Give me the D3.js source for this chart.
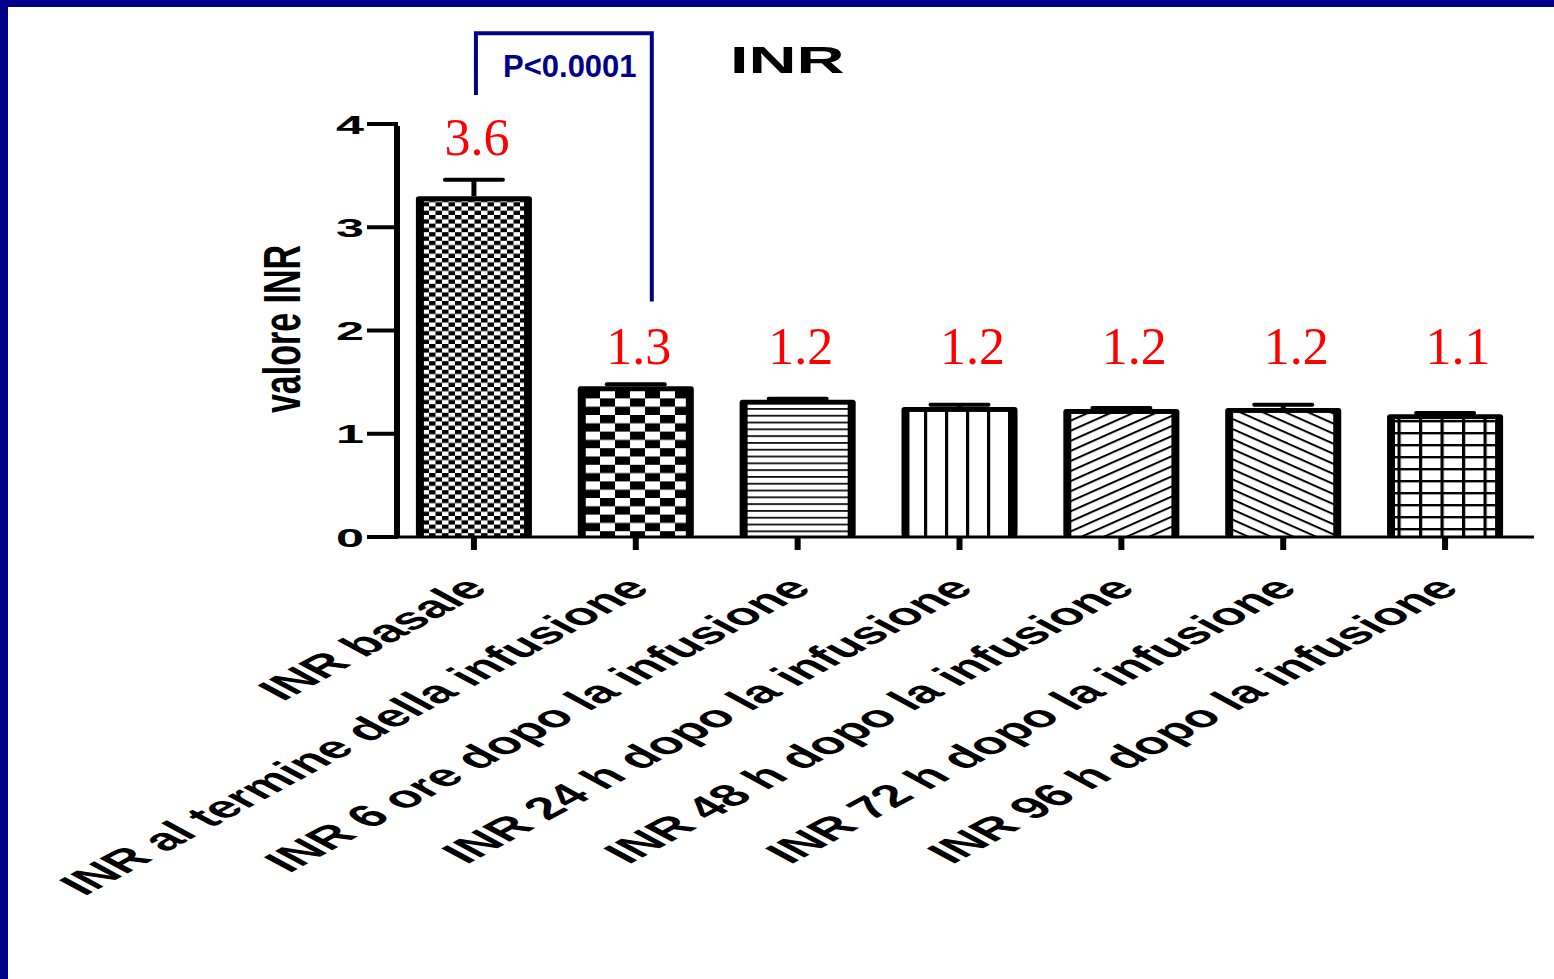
<!DOCTYPE html>
<html>
<head>
<meta charset="utf-8">
<script src="https://cdn.jsdelivr.net/npm/d3@7"></script>
<style>
  body { margin: 0; background: #fff; }
  svg { display: block; }
</style>
</head>
<body>
<svg id="chart" width="1554" height="979"></svg>
<script>
// INR values
var categories = [
    "INR basale",
    "INR al termine della infusione",
    "INR 6 ore dopo la infusione",
    "INR 24 h dopo la infusione",
    "INR 48 h dopo la infusione",
    "INR 72 h dopo la infusione",
    "INR 96 h dopo la infusione"
];
var means = [3.30, 1.46, 1.33, 1.26, 1.24, 1.25, 1.19];
var errors = [0.16, 0.02, 0.01, 0.02, 0.01, 0.03, 0.01];
var valueLabels = ["3.6", "1.3", "1.2", "1.2", "1.2", "1.2", "1.1"];
var yTicks = [0, 1, 2, 3, 4];
var pLabel = "P<0.0001";

var navy = "#000088";
var stretch = 1.85; // the original graph looks stretched sideways

var svg = d3.select("#chart");

// frame on the left and top
svg.append("rect").attr("x", 0).attr("y", 0).attr("width", 8).attr("height", 979).attr("fill", navy);
svg.append("rect").attr("x", 0).attr("y", 0).attr("width", 1554).attr("height", 7).attr("fill", navy);

var x = d3.scaleBand().domain(categories).range([393, 1526]).paddingInner(0.283).paddingOuter(0.1415);
var y = d3.scaleLinear().domain([0, 4]).range([537, 124]);

// fill patterns
var defs = svg.append("defs");
function pattern(id, w, h, transform) {
    var p = defs.append("pattern").attr("id", id)
        .attr("patternUnits", "userSpaceOnUse")
        .attr("width", w).attr("height", h);
    if (transform) p.attr("patternTransform", transform);
    p.append("rect").attr("width", w).attr("height", h).attr("fill", "#fff");
    return p;
}
function checker(id, w, h) {
    var p = pattern(id, w * 2, h * 2);
    p.append("rect").attr("x", 0).attr("y", 0).attr("width", w).attr("height", h).attr("fill", "#000");
    p.append("rect").attr("x", w).attr("y", h).attr("width", w).attr("height", h).attr("fill", "#000");
}
checker("p0", 6.5, 4.3);
checker("p1", 15, 8.3);
var p2 = pattern("p2", 10, 6.8);
p2.append("rect").attr("y", 0).attr("width", 10).attr("height", 1.8).attr("fill", "#111");
var p3 = pattern("p3", 21, 10);
p3.append("rect").attr("x", 0).attr("width", 3.2).attr("height", 10).attr("fill", "#000");
var p4 = pattern("p4", 10, 9.2, "rotate(-24)");
p4.append("rect").attr("y", 0).attr("width", 10).attr("height", 2).attr("fill", "#000");
var p5 = pattern("p5", 10, 9.2, "rotate(24)");
p5.append("rect").attr("y", 0).attr("width", 10).attr("height", 2).attr("fill", "#000");
var p6 = pattern("p6", 21.5, 12);
p6.append("rect").attr("x", 0).attr("width", 3.2).attr("height", 12).attr("fill", "#000");
p6.append("rect").attr("y", 0).attr("width", 21.5).attr("height", 2.4).attr("fill", "#000");

// bars
var bars = svg.selectAll("g.bar").data(categories).enter()
    .append("g").attr("class", "bar");

bars.append("rect")
    .attr("x", d => x(d))
    .attr("y", (d, i) => y(means[i]))
    .attr("width", x.bandwidth())
    .attr("height", (d, i) => y(0) - y(means[i]))
    .attr("rx", 3)
    .attr("fill", "#000");

bars.append("rect")
    .attr("x", d => x(d) + 8)
    .attr("y", (d, i) => y(means[i]) + 5)
    .attr("width", x.bandwidth() - 16)
    .attr("height", (d, i) => y(0) - y(means[i]) - 6)
    .attr("fill", (d, i) => "url(#p" + i + ")");

// error bars (upper half only)
bars.append("line")
    .attr("x1", d => x(d) + x.bandwidth() / 2)
    .attr("x2", d => x(d) + x.bandwidth() / 2)
    .attr("y1", (d, i) => y(means[i]))
    .attr("y2", (d, i) => y(means[i] + errors[i]))
    .attr("stroke", "#000").attr("stroke-width", 5);
bars.append("line")
    .attr("x1", d => x(d) + x.bandwidth() / 2 - 29)
    .attr("x2", d => x(d) + x.bandwidth() / 2 + 29)
    .attr("y1", (d, i) => y(means[i] + errors[i]))
    .attr("y2", (d, i) => y(means[i] + errors[i]))
    .attr("stroke", "#000").attr("stroke-width", 4).attr("stroke-linecap", "round");

// axes
svg.append("line").attr("x1", 367).attr("x2", 1534).attr("y1", y(0)).attr("y2", y(0))
    .attr("stroke", "#000").attr("stroke-width", 3);
svg.append("path")
    .attr("d", "M397," + y(0) + "V" + (y(4) + 2))
    .attr("stroke", "#000").attr("stroke-width", 6).attr("fill", "none");

var yAxis = svg.append("g");
yAxis.selectAll("line").data(yTicks).enter().append("line")
    .attr("x1", 367).attr("x2", 398)
    .attr("y1", d => y(d)).attr("y2", d => y(d))
    .attr("stroke", "#000").attr("stroke-width", 4);
yAxis.selectAll("text").data(yTicks).enter().append("text")
    .attr("transform", d => "translate(364," + (y(d) + 9.5) + ") scale(1.9,1)")
    .attr("text-anchor", "end")
    .attr("font-family", "Liberation Sans, Arial, sans-serif")
    .attr("font-weight", "bold")
    .attr("font-size", 26.5)
    .text(d => d);

var xAxis = svg.append("g");
xAxis.selectAll("line").data(categories).enter().append("line")
    .attr("x1", d => x(d) + x.bandwidth() / 2)
    .attr("x2", d => x(d) + x.bandwidth() / 2)
    .attr("y1", y(0)).attr("y2", y(0) + 13)
    .attr("stroke", "#000").attr("stroke-width", 6);
xAxis.selectAll("text").data(categories).enter().append("text")
    .attr("transform", d => "translate(" + (x(d) + x.bandwidth() / 2 + 16) + ",590) scale(" + stretch + ",1) rotate(-45)")
    .attr("text-anchor", "end")
    .attr("font-family", "Liberation Sans, Arial, sans-serif")
    .attr("font-weight", "bold")
    .attr("font-size", 31)
    .text(d => d);

// y axis title
svg.append("text")
    .attr("transform", "translate(300,329) scale(1.5,1) rotate(-90)")
    .attr("text-anchor", "middle")
    .attr("font-family", "Liberation Sans, Arial, sans-serif")
    .attr("font-weight", "bold")
    .attr("font-size", 34)
    .text("valore INR");

// chart title
svg.append("text")
    .attr("transform", "translate(730,73) scale(" + stretch + ",1)")
    .attr("font-family", "Liberation Sans, Arial, sans-serif")
    .attr("font-weight", "bold")
    .attr("font-size", 36)
    .text("INR");

// red value labels
svg.selectAll("text.val").data(valueLabels).enter().append("text")
    .attr("class", "val")
    .attr("x", (d, i) => x(categories[i]) + x.bandwidth() / 2 + (i < 3 ? 3 : 13))
    .attr("y", (d, i) => i === 0 ? y(means[0] + errors[0]) - 25 : y(1.68))
    .attr("text-anchor", "middle")
    .attr("font-family", "Liberation Serif, Times New Roman, serif")
    .attr("font-size", 52)
    .attr("fill", "#ff0000")
    .text(d => d);

// significance bracket
var xa = x(categories[0]) + x.bandwidth() / 2 + 2;
var xb = x(categories[1]) + x.bandwidth() / 2 + 16;
svg.append("path")
    .attr("d", "M" + xa + "," + y(4.28) + "V" + y(4.88) + "H" + xb + "V" + y(2.28))
    .attr("stroke", navy).attr("stroke-width", 4).attr("fill", "none");
svg.append("text")
    .attr("x", 503).attr("y", 77)
    .attr("font-family", "Liberation Sans, Arial, sans-serif")
    .attr("font-weight", "bold")
    .attr("font-size", 31)
    .attr("fill", navy)
    .text(pLabel);
</script>
</body>
</html>
